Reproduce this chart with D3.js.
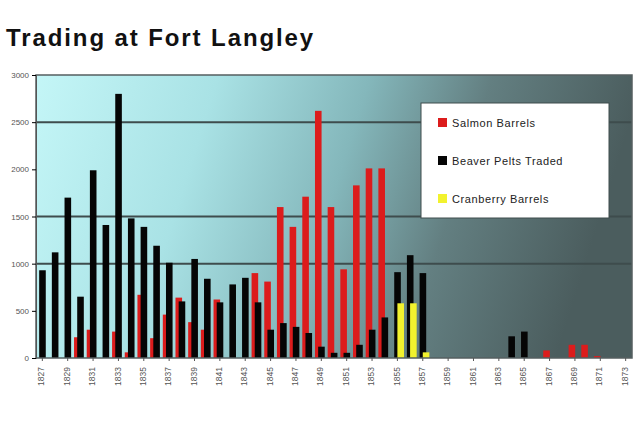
<!DOCTYPE html>
<html><head><meta charset="utf-8">
<script src="https://cdn.jsdelivr.net/npm/d3@7"></script>
<style>body{margin:0;background:#fff}svg{display:block}</style>
</head><body>
<svg id="c" width="640" height="424"></svg>
<script>
const years = d3.range(1827, 1874).map(String);
const salmon = [0,0,0,220,300,0,280,60,670,210,460,640,380,300,620,0,0,900,810,1600,1390,1710,2620,1600,940,1830,2010,2010,0,0,0,0,0,0,0,0,0,0,0,0,80,0,140,140,20,0,0];
const beaver = [930,1120,1700,650,1990,1410,2800,1480,1390,1190,1010,600,1050,840,590,780,850,590,300,370,330,265,120,55,55,140,300,430,910,1090,900,0,0,0,0,0,0,230,280,0,0,0,0,0,0,0,0];
const cranberry = [0,0,0,0,0,0,0,0,0,0,0,0,0,0,0,0,0,0,0,0,0,0,0,0,0,0,0,0,580,580,60,0,0,0,0,0,0,0,0,0,0,0,0,0,0,0,0];
const seriesNames = ["Salmon Barrels","Beaver Pelts Traded","Cranberry Barrels"];
const seriesColors = ["#dc1c1c","#050505","#f2f22e"];
const yTicks = [0,500,1000,1500,2000,2500,3000];
const yTickLabels = ["0","500","1000","1500","2000","2500","3000"];
const gridValues = [1000,1500,2500];
const xTickYears = years.filter((d,i)=>i%2===0);

const svg = d3.select("#c");
const L=36,R=632,T=75,B=358;
const x = d3.scaleBand().domain(years).range([L,R]).paddingInner(0).paddingOuter(0);
const y = d3.scaleLinear().domain([0,3000]).range([B,T]);

const defs = svg.append("defs");
const g = defs.append("linearGradient").attr("id","bg").attr("x1","0").attr("y1","0").attr("x2","1").attr("y2","0.15");
[["0%","#c4f6f7"],["30%","#a9e2e5"],["55%","#84b7bb"],["75%","#637f81"],["100%","#4b5d5e"]].forEach(s=>g.append("stop").attr("offset",s[0]).attr("stop-color",s[1]));

svg.append("rect").attr("x",L).attr("y",T).attr("width",R-L).attr("height",B-T).attr("fill","url(#bg)");

svg.append("g").selectAll("line").data(gridValues).join("line")
  .attr("x1",L).attr("x2",R).attr("y1",d=>y(d)).attr("y2",d=>y(d))
  .attr("stroke","#3e4c4d").attr("stroke-width",2);

const bw = x.bandwidth();
const w = bw*0.52, step = bw*0.25;
const series = [salmon, beaver, cranberry];
series.forEach((vals,si)=>{
  svg.append("g").selectAll("rect").data(vals.map((v,i)=>({v,yr:years[i]})).filter(d=>d.v>0)).join("rect")
    .attr("x",d=>x(d.yr)+si*step)
    .attr("y",d=>y(d.v)).attr("width",w).attr("height",d=>B-y(d.v))
    .attr("fill",seriesColors[si]);
});

svg.append("rect").attr("x",L).attr("y",T).attr("width",R-L).attr("height",B-T)
  .attr("fill","none").attr("stroke","#555f60").attr("stroke-width",1.5);

const yAxis = d3.axisLeft(y).tickValues(yTicks).tickFormat((d,i)=>yTickLabels[i]).tickSize(4);
const ya = svg.append("g").attr("transform",`translate(${L},0)`).call(yAxis);
ya.select(".domain").attr("stroke","#555");
ya.selectAll("text").attr("font-family","Liberation Sans, Arial").attr("font-size",8).attr("fill","#555");

const xAxis = d3.axisBottom(x).tickValues(xTickYears).tickSize(3);
const xa = svg.append("g").attr("transform",`translate(0,${B})`).call(xAxis);
xa.select(".domain").remove();
xa.selectAll("line").attr("stroke","#555");
xa.selectAll("text").attr("font-family","Liberation Sans, Arial").attr("font-size",8.5).attr("fill","#555")
  .attr("transform","rotate(-90)").attr("text-anchor","end").attr("dx","-0.6em").attr("dy","-0.1em").attr("y",3).attr("x",-4);

svg.append("text").attr("x",6).attr("y",46).text("Trading at Fort Langley")
  .attr("font-family","Liberation Sans, Arial").attr("font-weight","bold").attr("font-size",24).attr("letter-spacing",1.9).attr("fill","#111");

const lg = svg.append("g");
lg.append("rect").attr("x",421).attr("y",103).attr("width",188).attr("height",115).attr("fill","#fff").attr("stroke","#3e4c4d").attr("stroke-width",1);
seriesNames.forEach((n,i)=>{
  const yy = 123 + i*38;
  lg.append("rect").attr("x",438).attr("y",yy-5).attr("width",9).attr("height",9).attr("fill",seriesColors[i]);
  lg.append("text").attr("x",452).attr("y",yy+4).text(n).attr("font-family","Liberation Sans, Arial").attr("font-size",11).attr("letter-spacing",0.6).attr("fill","#222");
});
</script>
</body></html>
